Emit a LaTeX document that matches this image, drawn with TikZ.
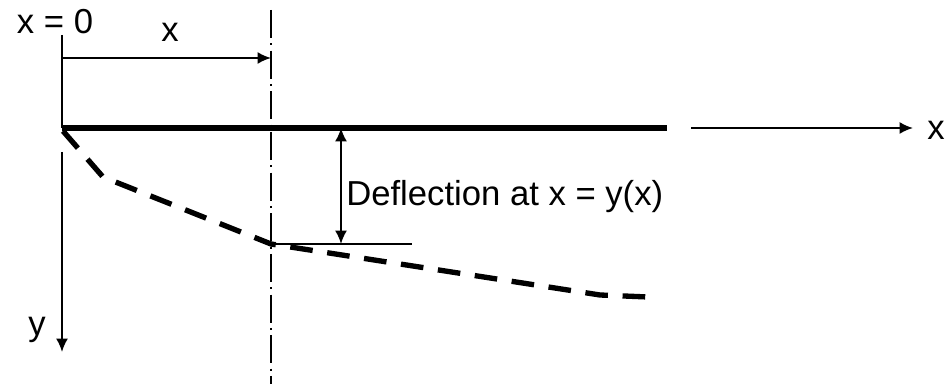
\documentclass[tikz,border=0pt]{standalone}
\usepackage{fontspec}
\setmainfont{Liberation Sans}
\usetikzlibrary{arrows,arrows.meta}

\begin{document}
\begin{tikzpicture}[x=0.75pt,y=-0.75pt,font=\fontsize{26}{31}\selectfont,
    lbl/.style={inner sep=0pt},
    thinline/.style={line width=1.6pt},
    tip/.style={-{Latex[length=10pt,width=9pt]}},
    tips/.style={{Latex[length=10pt,width=9pt]}-{Latex[length=10pt,width=9pt]}},
    beam/.style={line width=3.9pt},
    curve/.style={line width=4pt,dash pattern=on 17pt off 11pt},
    center line/.style={line width=1.6pt,dash pattern=on 21pt off 4pt on 1.5pt off 4pt}]
    \useasboundingbox (0,0) rectangle (950,384);

    \node[lbl] (xzero) at (55,22) {x = 0};
    \node[lbl] (xdim) at (170,32) {x};
    \node[lbl] (xaxis) at (936,130) {x};
    \node[lbl] (yaxis) at (37,330) {y};
    \node[lbl,anchor=west] (defl) at (346,197) {Deflection at x = y(x)};

    \coordinate (o) at (62,128);
    \coordinate (otop) at (62,35);
    \coordinate (odim) at (62,58);
    \coordinate (cdim) at (271,58);
    \coordinate (ctop) at (271,10);
    \coordinate (cbot) at (271,384);
    \coordinate (bend) at (667,128);
    \coordinate (xa) at (691,128);
    \coordinate (xb) at (913,128);
    \coordinate (ya) at (62,152);
    \coordinate (yb) at (62,352);
    \coordinate (da) at (341,128);
    \coordinate (db) at (341,244);
    \coordinate (la) at (271,244);
    \coordinate (lb) at (412,244);

    \draw[thinline] (otop) -- (o);
    \draw[thinline,tip] (odim) -- (cdim);
    \draw[center line] (ctop) -- (cbot);
    \draw[beam] (o) -- (bend);
    \draw[thinline,tip] (xa) -- (xb);
    \draw[thinline,tip] (ya) -- (yb);
    \draw[thinline,tips] (da) -- (db);
    \draw[thinline] (la) -- (lb);

    % deflected shape
    \draw[curve] (63,131) -- (103,177) -- (la) -- (600,295) -- (648,297);
\end{tikzpicture}
\end{document}
